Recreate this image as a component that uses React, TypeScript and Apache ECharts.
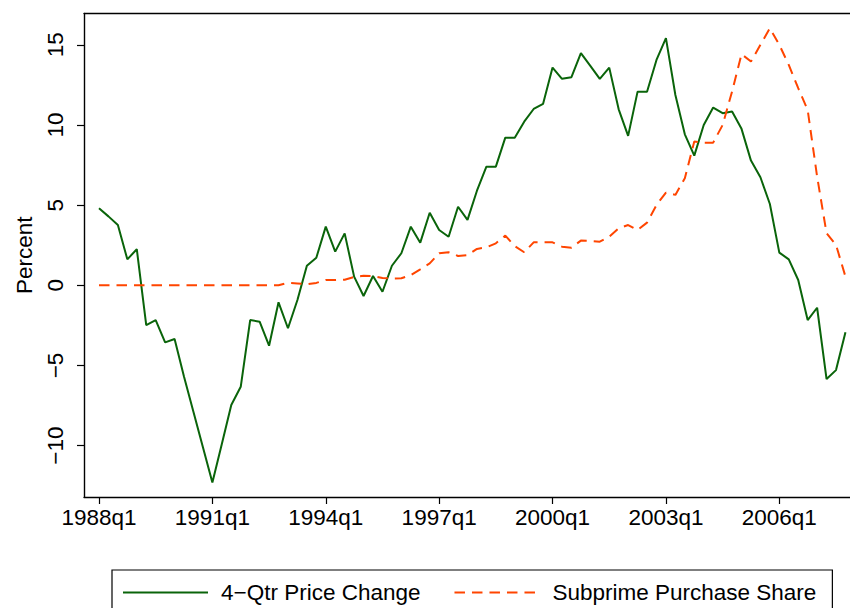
import React, { useEffect, useRef } from "react";
import * as echarts from "echarts";

// Quarterly categories 1988q1 .. 2007q4
const years = [1988, 1989, 1990, 1991, 1992, 1993, 1994, 1995, 1996, 1997, 1998, 1999, 2000, 2001, 2002, 2003, 2004, 2005, 2006, 2007];
const quarters: string[] = [];
years.forEach((y) => ["q1", "q2", "q3", "q4"].forEach((q) => quarters.push(`${y}${q}`)));

const xTickLabels = ["1988q1", "1991q1", "1994q1", "1997q1", "2000q1", "2003q1", "2006q1"];
const yTicks = [-10, -5, 0, 5, 10, 15];

const priceName = "4\u2212Qtr Price Change";
const subprimeName = "Subprime Purchase Share";

// 4-quarter house price change (%)
const priceChange = [
  4.8, 4.3, 3.76, 1.62, 2.25, -2.48, -2.17, -3.56,
  -3.35, -5.7, -7.9, -10.1, -12.3, -9.9, -7.47, -6.33,
  -2.17, -2.27, -3.77, -1.06, -2.68, -0.92, 1.22, 1.72,
  3.66, 2.1, 3.24, 0.54, -0.67, 0.58, -0.4, 1.22,
  2.0, 3.66, 2.66, 4.53, 3.45, 3.03, 4.9, 4.08,
  5.9, 7.4, 7.4, 9.21, 9.21, 10.21, 11.0, 11.32,
  13.58, 12.88, 12.98, 14.48, 13.69, 12.88, 13.58, 10.98,
  9.32, 12.08, 12.08, 14.06, 15.42, 11.87, 9.42, 8.09,
  10.0, 11.09, 10.74, 10.84, 9.76, 7.78, 6.74, 5.07,
  2.04, 1.62, 0.33, -2.17, -1.4, -5.85, -5.29, -2.93,
];

// Subprime purchase share (%)
const subprimeShare = [
  0, 0, 0, 0, 0, 0, 0, 0,
  0, 0, 0, 0, 0, 0, 0, 0,
  0, 0, 0, 0, 0.16, 0.12, 0.06, 0.15,
  0.33, 0.33, 0.35, 0.52, 0.6, 0.58, 0.46, 0.42,
  0.44, 0.64, 1.0, 1.37, 2.0, 2.06, 1.83, 1.89,
  2.27, 2.37, 2.62, 3.1, 2.45, 2.06, 2.68, 2.68,
  2.68, 2.41, 2.35, 2.79, 2.77, 2.72, 3.03, 3.56,
  3.76, 3.45, 3.91, 5.01, 5.78, 5.64, 6.68, 8.97,
  8.9, 8.9, 10.0, 12.09, 14.42, 13.96, 15.0, 16.04,
  15.0, 13.75, 12.3, 10.94, 6.78, 3.25, 2.52, 0.54,
];

const GREEN = "#0a640a";
const ORANGE = "#ff4500";
const FONT = "'Liberation Sans', Arial, Helvetica, sans-serif";

export default function App() {
  const ref = useRef<HTMLDivElement>(null);

  useEffect(() => {
    if (!ref.current) return;
    const chart = echarts.init(ref.current, null, { renderer: "svg" });
    const xTickValues = xTickLabels.map((l) => quarters.indexOf(l));
    const xMin = -1.587;
    const xMax = 79.48;
    const axisLineStyle = { color: "#000", width: 1.4 };

    chart.setOption({
      animation: false,
      backgroundColor: "#fff",
      textStyle: { fontFamily: FONT },
      grid: { left: 84, right: 0, top: 13.5, bottom: 111, outerBoundsMode: "none" },
      legend: {
        left: 112,
        top: 570,
        orient: "horizontal",
        padding: [11, 16, 14, 10],
        itemWidth: 85,
        itemHeight: 14,
        itemGap: 33,
        borderColor: "#000",
        borderWidth: 1.2,
        itemStyle: { opacity: 0 },
        textStyle: { fontSize: 22.5, color: "#000", fontFamily: FONT, padding: [0, 0, 0, 8] },
        data: [priceName, subprimeName],
      },
      xAxis: [
        {
          type: "value",
          min: xMin,
          max: xMax,
          axisLine: { show: true, onZero: false, lineStyle: axisLineStyle },
          axisTick: { show: true, customValues: xTickValues, length: 7, lineStyle: { color: "#000", width: 1.2 } },
          axisLabel: {
            show: true,
            customValues: xTickValues,
            formatter: (v: number) => quarters[Math.round(v)] ?? "",
            fontSize: 22.5,
            color: "#000",
            fontFamily: FONT,
            margin: 9,
          },
          splitLine: { show: false },
        },
        {
          type: "value",
          position: "top",
          min: xMin,
          max: xMax,
          axisLine: { show: true, onZero: false, lineStyle: axisLineStyle },
          axisTick: { show: false },
          axisLabel: { show: false },
          splitLine: { show: false },
        },
      ],
      yAxis: {
        type: "value",
        min: -13.206,
        max: 16.956,
        name: "Percent",
        nameLocation: "middle",
        nameGap: 48,
        nameTextStyle: { fontSize: 22.5, color: "#000", fontFamily: FONT },
        axisLine: { show: true, onZero: false, lineStyle: axisLineStyle },
        axisTick: { show: true, customValues: yTicks, length: 7, lineStyle: { color: "#000", width: 1.2 } },
        axisLabel: {
          show: true,
          customValues: yTicks,
          rotate: 90,
          fontSize: 22.5,
          color: "#000",
          fontFamily: FONT,
          margin: 17,
          formatter: (v: number) => (v < 0 ? "\u2212" + Math.abs(v) : String(v)),
        },
        splitLine: { show: false },
      },
      series: [
        {
          name: priceName,
          type: "line",
          xAxisIndex: 0,
          data: priceChange.map((v, i) => [i, v]),
          symbol: "none",
          itemStyle: { color: GREEN },
          lineStyle: { color: GREEN, width: 2 },
        },
        {
          name: subprimeName,
          type: "line",
          xAxisIndex: 0,
          data: subprimeShare.map((v, i) => [i, v]),
          symbol: "none",
          itemStyle: { color: ORANGE },
          lineStyle: { color: ORANGE, width: 2, type: [10.5, 7] },
        },
      ],
    });

    return () => chart.dispose();
  }, []);

  return (
    <div
      ref={ref}
      style={{ position: "absolute", left: 0, top: 0, width: 850, height: 608 }}
    />
  );
}
